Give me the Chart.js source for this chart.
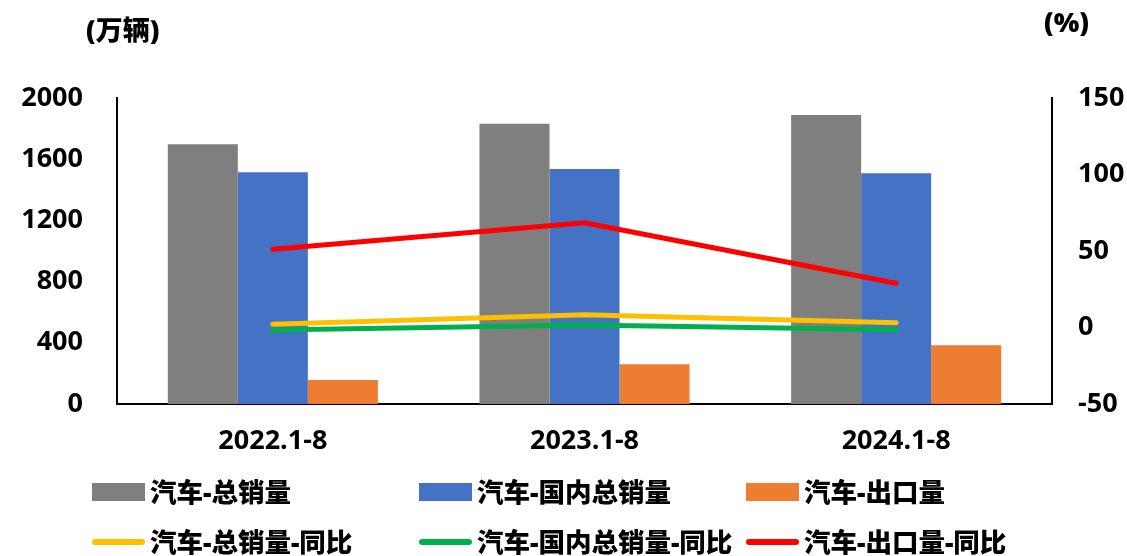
<!DOCTYPE html>
<html>
<head>
<meta charset="utf-8">
<script src="https://cdn.jsdelivr.net/npm/chart.js@4.4.1/dist/chart.umd.min.js"></script>
<style>
  body { margin: 0; background: #fff; }
  #wrap { position: relative; width: 1127px; height: 556px; overflow: hidden;
    font-family: "Open Sans", "Noto Sans CJK SC", sans-serif; font-weight: 900; color: #000; }
  canvas { position: absolute; left: 0; top: 0; }
  .unit { position: absolute; font-size: 27px; line-height: 1; }
  .lg { position: absolute; font-size: 26.5px; line-height: 1; display: flex; align-items: center; }
  .lg i { display: inline-block; width: 53px; margin-right: 5px; }
</style>
</head>
<body>
<div id="wrap">
  <canvas id="c" width="1127" height="556"></canvas>
  <div class="unit" style="left:86px; top:16px;">(万辆)</div>
  <div class="unit" style="left:1044px; top:8px;">(%)</div>
  <div id="legend"></div>
</div>
<script>
// 类别
const periods = ['2022.1-8', '2023.1-8', '2024.1-8']

// 销量 (万辆)
const totalSales = [1697, 1832, 1889]
const domesticSales = [1514, 1536, 1508]
const exportSales = [157, 259, 384]

// 同比 (%)
const totalYoY = [2.1, 8.4, 3.1]
const domesticYoY = [-1.6, 1.6, -1.4]
const exportYoY = [51.1, 68.5, 28.9]

const leftTicks = [0, 400, 800, 1200, 1600, 2000]
const rightTicks = [-50, 0, 50, 100, 150]

const colors = {
    total: '#7F7F7F',
    domestic: '#4472C4',
    export: '#ED7D31',
    totalYoY: '#FFC000',
    domesticYoY: '#00B050',
    exportYoY: '#FF0000'
}

const font = { family: '"Open Sans", "Noto Sans", sans-serif', size: 27, weight: 'bold' }

const barSet = (label, data, color) => ({
    type: 'bar', label, data, backgroundColor: color, yAxisID: 'y', order: 2,
    categoryPercentage: 0.674, barPercentage: 1
})
const lineSet = (label, data, color) => ({
    type: 'line', label, data, borderColor: color, backgroundColor: color, yAxisID: 'y1', order: 1,
    borderWidth: 5, pointRadius: 0, borderCapStyle: 'round', borderJoinStyle: 'round', tension: 0
})

new Chart(document.getElementById('c'), {
    data: {
        labels: periods,
        datasets: [
            barSet('汽车-总销量', totalSales, colors.total),
            barSet('汽车-国内总销量', domesticSales, colors.domestic),
            barSet('汽车-出口量', exportSales, colors.export),
            lineSet('汽车-总销量-同比', totalYoY, colors.totalYoY),
            lineSet('汽车-国内总销量-同比', domesticYoY, colors.domesticYoY),
            lineSet('汽车-出口量-同比', exportYoY, colors.exportYoY)
        ]
    },
    options: {
        responsive: false,
        animation: false,
        layout: { padding: { top: 98, left: 0, right: 0, bottom: 0 } },
        plugins: { legend: { display: false }, tooltip: { enabled: false } },
        scales: {
            x: {
                grid: { display: false, drawTicks: false },
                border: { display: true, color: '#000', width: 2 },
                ticks: { color: '#000', font, padding: 21 },
                afterFit: (s) => { s.height = 152 }
            },
            y: {
                position: 'left', min: 0, max: 2000,
                grid: { display: false, drawTicks: false },
                border: { display: true, color: '#000', width: 2 },
                afterBuildTicks: (s) => { s.ticks = leftTicks.map(v => ({ value: v })) },
                ticks: { color: '#000', font, padding: 34, callback: (v) => String(v) },
                afterFit: (s) => { s.width = 117 }
            },
            y1: {
                position: 'right', min: -50, max: 150,
                grid: { display: false, drawTicks: false },
                border: { display: true, color: '#000', width: 2 },
                afterBuildTicks: (s) => { s.ticks = rightTicks.map(v => ({ value: v })) },
                ticks: { color: '#000', font, padding: 26, callback: (v) => String(v) },
                afterFit: (s) => { s.width = 75 }
            }
        }
    }
})

// 图例 (两行三列)
const legendItems = [
    { label: '汽车-总销量', color: colors.total, box: true },
    { label: '汽车-国内总销量', color: colors.domestic, box: true },
    { label: '汽车-出口量', color: colors.export, box: true },
    { label: '汽车-总销量-同比', color: colors.totalYoY },
    { label: '汽车-国内总销量-同比', color: colors.domesticYoY },
    { label: '汽车-出口量-同比', color: colors.exportYoY }
]
const colX = [92, 419, 746]
const rowY = [492, 542]
let html = ''
legendItems.forEach((it, i) => {
    const x = colX[i % 3], y = rowY[Math.floor(i / 3)]
    const mark = it.box
        ? `<i style="height:18px;background:${it.color}"></i>`
        : `<i style="height:6px;border-radius:3px;background:${it.color}"></i>`
    html += `<div class="lg" style="left:${x}px;top:${y - 14}px;height:28px">${mark}<span>${it.label}</span></div>`
})
document.getElementById('legend').innerHTML = html
</script>
</body>
</html>
